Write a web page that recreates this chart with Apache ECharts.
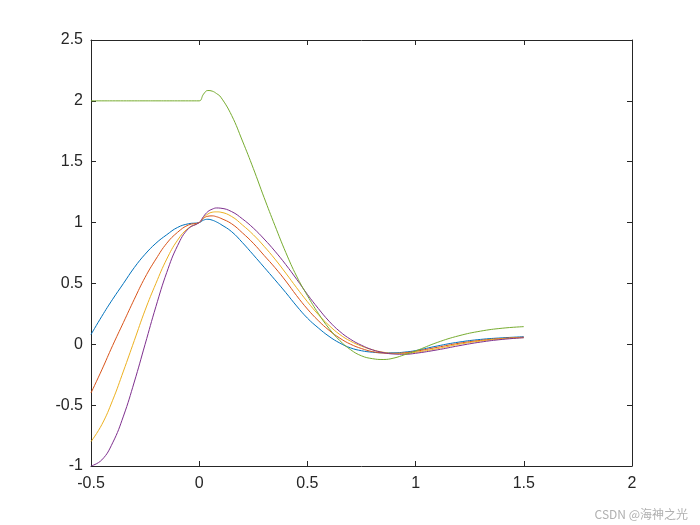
<!DOCTYPE html>
<html>
<head>
<meta charset="utf-8">
<script src="https://cdn.jsdelivr.net/npm/echarts@6/dist/echarts.min.js"></script>
<style>html,body{margin:0;padding:0;background:#fff}#c{width:700px;height:525px}</style>
</head>
<body>
<div id="c"></div>
<script>
var xs = [-0.5,-0.45,-0.4,-0.35,-0.3,-0.25,-0.2,-0.15,-0.1,-0.05,0,
  0.02,0.04,0.06,0.08,0.1,0.15,0.2,0.25,0.3,0.35,0.4,0.45,0.5,0.55,0.6,0.65,0.7,0.75,0.8,0.85,0.9,0.95,1.0,
  1.1,1.2,1.3,1.4,1.5];
var blue = [0.08,0.23,0.37,0.50,0.63,0.74,0.83,0.90,0.96,0.99,1.0,
  1.02,1.027,1.02,1.005,0.985,0.925,0.835,0.735,0.633,0.53,0.425,0.315,0.215,0.135,0.065,0.01,-0.03,-0.053,-0.065,-0.07,-0.07,-0.064,-0.052,
  -0.014,0.018,0.04,0.053,0.062];
var orange = [-0.40,-0.21,-0.01,0.18,0.37,0.55,0.70,0.83,0.92,0.98,1.0,
  1.035,1.052,1.055,1.048,1.035,0.99,0.915,0.83,0.73,0.63,0.52,0.40,0.29,0.195,0.115,0.05,0.0,-0.035,-0.06,-0.072,-0.075,-0.07,-0.058,
  -0.025,0.008,0.032,0.048,0.058];
var yellow = [-0.80,-0.66,-0.46,-0.22,0.03,0.28,0.50,0.70,0.855,0.955,1.0,
  1.04,1.07,1.085,1.088,1.085,1.05,0.98,0.90,0.805,0.70,0.585,0.465,0.35,0.245,0.155,0.08,0.025,-0.015,-0.045,-0.065,-0.075,-0.075,-0.066,
  -0.036,0.0,0.027,0.045,0.055];
var purple = [-1.0,-0.95,-0.81,-0.59,-0.31,0.0,0.31,0.59,0.81,0.95,1.0,
  1.05,1.09,1.11,1.12,1.118,1.09,1.03,0.955,0.865,0.765,0.655,0.535,0.41,0.295,0.19,0.105,0.04,-0.008,-0.045,-0.068,-0.08,-0.082,-0.074,
  -0.046,-0.012,0.018,0.04,0.054];
var green = [2,2,2,2,2,2,2,2,2,2,2,
  2.055,2.085,2.08,2.06,2.03,1.88,1.67,1.445,1.205,0.975,0.755,0.56,0.40,0.255,0.13,0.03,-0.045,-0.095,-0.118,-0.125,-0.113,-0.085,-0.055,
  0.015,0.07,0.108,0.132,0.145];
var xTicks = [-0.5, 0, 0.5, 1, 1.5, 2];
var yTicks = [-1, -0.5, 0, 0.5, 1, 1.5, 2, 2.5];
var watermark = 'CSDN @海神之光';

var colors = ['#0072BD','#D95319','#EDB120','#7E2F8E','#77AC30'];
var sets = [blue, orange, yellow, purple, green];
function pairs(v){ return xs.map(function(x,i){ return [x, v[i]]; }); }

var axisCol = '#262626';
var font = 'Liberation Sans, Arial, Helvetica, sans-serif';
function xAx(pos, show){
  return {type:'value', position:pos, min:xTicks[0], max:xTicks[xTicks.length-1], interval:0.5,
    axisLine:{show:true, onZero:false, lineStyle:{color:axisCol, width:1}},
    axisTick:{show:true, inside:true, length:5, lineStyle:{color:axisCol}},
    axisLabel:{show:show, color:'#262626', fontSize:16, fontFamily:font, margin:10},
    splitLine:{show:false}};
}
function yAx(pos, show){
  return {type:'value', position:pos, min:yTicks[0], max:yTicks[yTicks.length-1], interval:0.5,
    axisLine:{show:true, onZero:false, lineStyle:{color:axisCol, width:1}},
    axisTick:{show:true, inside:true, length:5, lineStyle:{color:axisCol}},
    axisLabel:{show:show, color:'#262626', fontSize:16, fontFamily:font, margin:8},
    splitLine:{show:false}};
}
var chart = echarts.init(document.getElementById('c'), null, {renderer:'canvas'});
chart.setOption({
  animation:false,
  backgroundColor:'#ffffff',
  grid:{left:91, right:68, top:40, bottom:59, containLabel:false},
  xAxis:[xAx('bottom', true), xAx('top', false)],
  yAxis:[yAx('left', true), yAx('right', false)],
  series: sets.map(function(v,i){
    return {type:'line', xAxisIndex:0, yAxisIndex:0, data:pairs(v), showSymbol:false, smooth:0.45,
      lineStyle:{color:colors[i], width:1}, z:2+i};
  }),
  graphic:[{type:'text', right:12, bottom:5, style:{text:watermark, fill:'#b0b0b0', fontSize:12, fontFamily:'Noto Sans CJK SC, sans-serif'}}]
});
</script>
</body>
</html>
